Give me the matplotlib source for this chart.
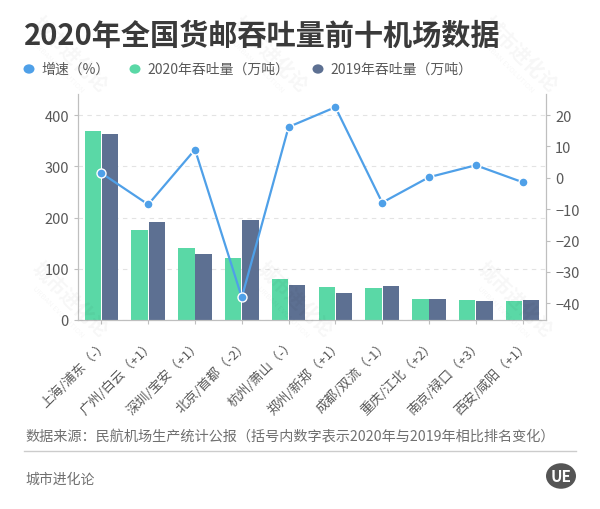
import numpy as np
import matplotlib; matplotlib.use('Agg')
import matplotlib.pyplot as plt
from matplotlib.patches import Circle

plt.rcParams['font.family'] = ['Noto Sans CJK SC', 'DejaVu Sans']

# --- data
airports = ['上海/浦东（-）', '广州/白云（+1）', '深圳/宝安（+1）', '北京/首都（-2）', '杭州/萧山（-）',
            '郑州/新郑（+1）', '成都/双流（-1）', '重庆/江北（+2）', '南京/禄口（+3）', '西安/咸阳（+1）']
vol_2020 = [368.7, 175.9, 139.9, 121.0, 80.2, 64.0, 61.9, 41.1, 38.9, 37.6]
vol_2019 = [363.4, 192.2, 128.3, 195.5, 69.0, 52.2, 67.2, 41.1, 37.5, 38.2]
growth = [1.5, -8.5, 9.0, -38.1, 16.2, 22.5, -7.9, 0.2, 4.0, -1.4]

c_line = '#4fa0e8'
c_2020 = '#5ad8a6'
c_2019 = '#5d7092'
c_text = '#595959'
c_axis = '#bfbfbf'

fig = plt.figure(figsize=(6, 5.1), dpi=100, facecolor='white')

# --- watermarks (faint)
for (wx, wy) in [(70, 55), (270, 55), (520, 55), (70, 300), (295, 300), (515, 300)]:
    fig.text(wx / 600, 1 - wy / 510, '城市进化论', fontsize=14, fontweight='bold', color='#000000', alpha=0.035,
             rotation=-45, ha='center', va='center')
    fig.text((wx - 12) / 600, 1 - (wy + 12) / 510, 'URBAN EVOLUTION', fontsize=5.5, color='#000000', alpha=0.035,
             rotation=-45, ha='center', va='center')

ax = fig.add_axes([78 / 600, 1 - 321 / 510, (546 - 78) / 600, (321 - 95) / 510])
ax2 = ax.twinx()

x = np.arange(len(airports))
w = 0.35
ax.bar(x - w / 2 - 0.01, vol_2020, width=w, color=c_2020, zorder=2)
ax.bar(x + w / 2 + 0.01, vol_2019, width=w, color=c_2019, zorder=2)

ax.set_xlim(-0.5, len(airports) - 0.5)
ax.set_ylim(0, 441)
ax.set_yticks([0, 100, 200, 300, 400])
ax.yaxis.grid(True, linestyle=(0, (4, 4)), color='#e3e3e3', linewidth=0.8, zorder=0)
ax.set_axisbelow(True)

ax2.plot(x, growth, color=c_line, linewidth=1.6, marker='o', markersize=6.5,
         markerfacecolor=c_line, markeredgecolor='white', markeredgewidth=1, zorder=5)
ax2.set_ylim(-45.3, 26.7)
ax2.set_yticks([-40, -30, -20, -10, 0, 10, 20])

for a in (ax, ax2):
    a.spines['top'].set_visible(False)
    for s in ('left', 'right', 'bottom'):
        a.spines[s].set_color(c_axis)
        a.spines[s].set_linewidth(0.8)
    a.tick_params(colors=c_axis, labelcolor=c_text, labelsize=10.5, length=3, width=0.8)

ax.set_xticks(x)
ax.set_xticklabels(airports, rotation=45, ha='right', rotation_mode='anchor', fontsize=9.5)
ax.tick_params(axis='x', pad=9)

# --- title & legend
fig.text(24 / 600, 1 - 36 / 510, '2020年全国货邮吞吐量前十机场数据', fontsize=21, fontweight='bold',
         color='#3a3a3a', va='center', ha='left')

legend_items = [(29, '增速（%）', c_line), (135, '2020年吞吐量（万吨）', c_2020), (318, '2019年吞吐量（万吨）', c_2019)]
for lx, lt, lc in legend_items:
    fig.patches.append(Circle((lx / 600, 1 - 70 / 510), 5.5 / 600, transform=fig.transFigure,
                              facecolor=lc, edgecolor='none'))
    fig.text((lx + 12) / 600, 1 - 70 / 510, lt, fontsize=10, color=c_text, va='center', ha='left')

# --- footer
fig.text(25 / 600, 1 - 437 / 510, '数据来源：民航机场生产统计公报（括号内数字表示2020年与2019年相比排名变化）',
         fontsize=10.2, color='#707070', va='center', ha='left')
fig.add_artist(plt.Line2D([24 / 600, 576 / 600], [1 - 452 / 510, 1 - 452 / 510], transform=fig.transFigure,
                          color='#cccccc', linewidth=1))
fig.text(25 / 600, 1 - 480 / 510, '城市进化论', fontsize=10, color='#707070', va='center', ha='left')

fig.patches.append(Circle((561 / 600, 1 - 477 / 510), 15 / 600, transform=fig.transFigure,
                          facecolor='#555555', edgecolor='none'))
fig.text(561 / 600, 1 - 477 / 510, 'UE', fontsize=11, fontweight='bold', color='white', va='center', ha='center')

fig.savefig('out.png', dpi=100, facecolor='white')
